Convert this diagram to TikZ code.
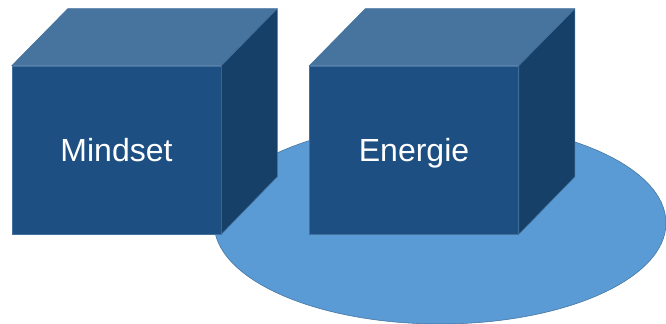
\documentclass[tikz,border=0pt]{standalone}
\usepackage{fontspec}
\setmainfont{Liberation Sans}
\usepackage{tikz}
\usetikzlibrary{positioning, shapes.geometric}
\definecolor{cubefront}{RGB}{29,79,130}
\definecolor{cubetop}{RGB}{71,116,158}
\definecolor{cubeside}{RGB}{22,64,104}
\definecolor{cubeline}{RGB}{65,113,156}
\definecolor{discfill}{RGB}{91,155,213}
\tikzset{
x=0.75pt, y=-0.75pt, % one unit is one pixel of the reference, y pointing down
line width=0.75pt,
front/.style={draw=cubeline, fill=cubefront, text=white, minimum width=156.75pt, minimum height=126pt, inner sep=0pt, text height=17.2pt, text depth=0pt, font=\fontsize{24}{28}\selectfont}, % front face of a cube
topface/.style={draw=cubeline, fill=cubetop}, % lit top of a cube
sideface/.style={draw=cubeline, fill=cubeside}, % shaded right side of a cube
disc/.style={ellipse, draw=cubeline, fill=discfill, minimum width=339pt, minimum height=151.5pt, inner sep=0pt}, % the flat plate
}

\begin{document}
\begin{tikzpicture}
    \useasboundingbox (0,0) rectangle (666,324);
    \node[disc] (plate) at (440,223) {};
    \node[front] (mindset) at (116.5,150) {Mindset};
    \node[front, right=66pt of mindset] (energie) {Energie};
    \foreach \c in {mindset, energie} {
      \draw[topface] (\c.north west) -- ++(56,-57) -- ++(209,0) -- (\c.north east) -- cycle;
      \draw[sideface] (\c.north east) -- ++(56,-57) -- ++(0,168) -- (\c.south east) -- cycle;
    }
\end{tikzpicture}
\end{document}
